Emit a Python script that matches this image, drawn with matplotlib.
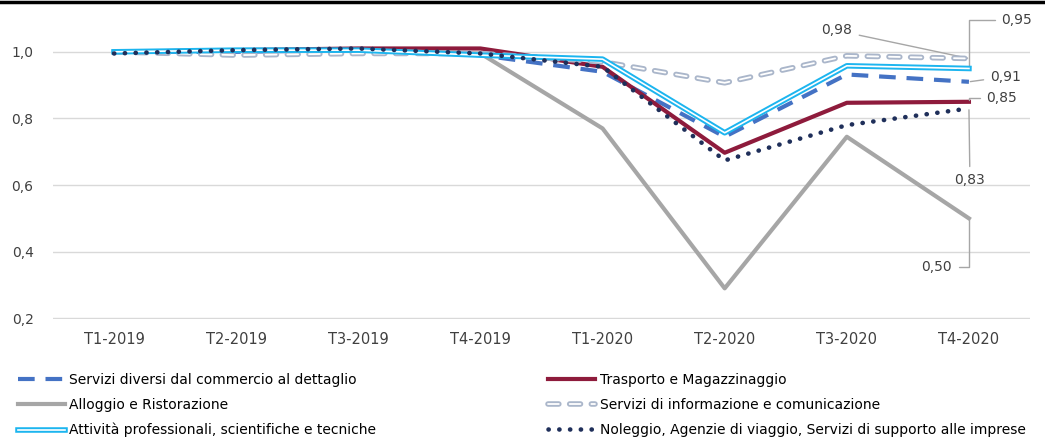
import matplotlib
matplotlib.use("Agg")
import matplotlib.pyplot as plt
import matplotlib.patheffects as pe
from matplotlib.lines import Line2D

quarters = ["T1-2019", "T2-2019", "T3-2019", "T4-2019",
            "T1-2020", "T2-2020", "T3-2020", "T4-2020"]

servizi_diversi = [1.0, 1.0, 1.005, 0.99, 0.94, 0.745, 0.932, 0.91]
trasporto = [1.0, 1.005, 1.01, 1.01, 0.955, 0.697, 0.847, 0.85]
alloggio = [1.0, 1.005, 1.005, 0.995, 0.77, 0.29, 0.745, 0.50]
informazione = [1.0, 0.99, 0.995, 0.995, 0.97, 0.907, 0.988, 0.98]
professionali = [1.0, 1.005, 1.005, 0.99, 0.978, 0.757, 0.958, 0.95]
noleggio = [0.995, 1.005, 1.01, 0.995, 0.955, 0.674, 0.78, 0.83]

end_labels = ["0,98", "0,95", "0,91", "0,85", "0,83", "0,50"]
end_values = [informazione[-1], professionali[-1], servizi_diversi[-1],
              trasporto[-1], noleggio[-1], alloggio[-1]]
# label offsets in pixels from the last point
label_offsets = [(-132, 28), (48, 48), (37, 5), (33, 4), (1, -72), (-32, -49)]
label_conn = ["arc3", "angle,angleA=0,angleB=90,rad=0", "arc3",
              "angle,angleA=0,angleB=90,rad=0", "arc3",
              "angle,angleA=0,angleB=90,rad=0"]

fig = plt.figure(figsize=(10.45, 4.43), dpi=100)
ax = fig.add_axes([53 / 1045, (443 - 319) / 443, 977 / 1045, (319 - 18.5) / 443])

x = list(range(len(quarters)))

ax.plot(x, servizi_diversi, color="#4472c4", lw=3, linestyle=(0, (4, 2.6)),
        label="Servizi diversi dal commercio al dettaglio", zorder=3)
ax.plot(x, trasporto, color="#8e1b3c", lw=3, label="Trasporto e Magazzinaggio", zorder=3)
ax.plot(x, alloggio, color="#a6a6a6", lw=3, label="Alloggio e Ristorazione", zorder=3)
ax.plot(x, informazione, color="white", lw=1.3, linestyle=(0, (6, 6)),
        dash_capstyle="round", label="Servizi di informazione e comunicazione", zorder=4,
        path_effects=[pe.Stroke(linewidth=4, foreground="#aab6ca", capstyle="round"), pe.Normal()])
ax.plot(x, professionali, color="white", lw=1.2, label="Attività professionali, scientifiche e tecniche",
        zorder=4, path_effects=[pe.Stroke(linewidth=4, foreground="#1cb5ef"), pe.Normal()])
ax.plot(x, noleggio, color="#1f2f5a", lw=3.3, linestyle=(0, (0.05, 2.3)), dash_capstyle="round",
        label="Noleggio, Agenzie di viaggio, Servizi di supporto alle imprese", zorder=5)

for lab, val, off, conn in zip(end_labels, end_values, label_offsets, label_conn):
    ax.annotate(lab, xy=(7, val), xytext=off, textcoords="offset pixels",
                ha="center", va="center", fontsize=10, color="#404040",
                fontfamily="DejaVu Sans",
                arrowprops=dict(arrowstyle="-", color="#a6a6a6", lw=1,
                                connectionstyle=conn, shrinkA=3, shrinkB=1),
                annotation_clip=False)

ax.set_xlim(-0.5, 7.5)
ax.set_ylim(0.198, 1.1)
ax.set_yticks([0.2, 0.4, 0.6, 0.8, 1.0])
ax.set_yticklabels(["0,2", "0,4", "0,6", "0,8", "1,0"])
ax.set_xticks(x)
ax.set_xticklabels(quarters)
ax.tick_params(length=0, labelsize=10, colors="#404040")
ax.tick_params(axis="y", pad=14)
ax.tick_params(axis="x", pad=9, labelsize=10.5)
ax.grid(axis="y", color="#d9d9d9", lw=1)
ax.set_axisbelow(True)
for s in ax.spines.values():
    s.set_visible(False)

h, l = ax.get_legend_handles_labels()
order = [0, 2, 4, 1, 3, 5]
fig.legend([h[i] for i in order], [l[i] for i in order], loc="lower left",
           bbox_to_anchor=(12 / 1045, 0.0), ncol=2, frameon=False,
           handlelength=3.4, handletextpad=0.3, columnspacing=12.4,
           labelspacing=0.78, borderaxespad=0.0,
           prop={"family": "DejaVu Sans", "size": 10})

fig.add_artist(Line2D([0, 1], [0.995, 0.995], transform=fig.transFigure, color="black", lw=2.5))

fig.savefig("out.png", dpi=100)
